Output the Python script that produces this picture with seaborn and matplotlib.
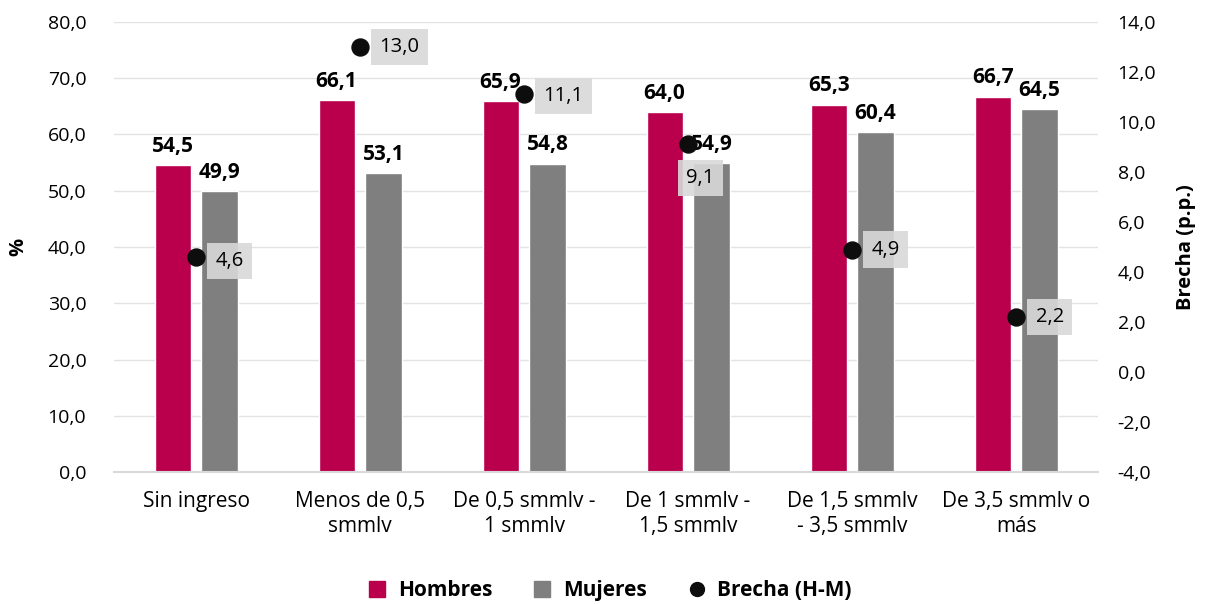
import pandas as pd
import seaborn as sns
import matplotlib.pyplot as plt
from matplotlib.ticker import FuncFormatter, MultipleLocator
from matplotlib.lines import Line2D

# -------------------------------------------------
# Data
# -------------------------------------------------
categorias = [
    "Sin ingreso",
    "Menos de 0,5\nsmmlv",
    "De 0,5 smmlv -\n1 smmlv",
    "De 1 smmlv -\n1,5 smmlv",
    "De 1,5 smmlv\n- 3,5 smmlv",
    "De 3,5 smmlv o\nmás",
]
hombres = [54.5, 66.1, 65.9, 64.0, 65.3, 66.7]
mujeres = [49.9, 53.1, 54.8, 54.9, 60.4, 64.5]
brecha = [4.6, 13.0, 11.1, 9.1, 4.9, 2.2]

# label nudges (points) for the gap labels, as placed in the original
brecha_offsets = [(14, -3), (14, 0), (14, -1), (9, -24), (14, 0), (14, 0)]

COL_H = "#BA004C"
COL_M = "#7F7F7F"
FONT = ["Open Sans", "DejaVu Sans"]
FS = 14.5


def fmt(v):
    return f"{v:.1f}".replace(".", ",")


df = pd.DataFrame({
    "categoria": categorias * 2,
    "valor": hombres + mujeres,
    "sexo": ["Hombres"] * len(categorias) + ["Mujeres"] * len(categorias),
})

# -------------------------------------------------
# Plot
# -------------------------------------------------
sns.set_theme(style="white")
plt.rcParams["font.family"] = FONT
plt.rcParams["text.color"] = "black"

fig = plt.figure(figsize=(12.08, 6.04), dpi=100)
ax = fig.add_axes([0.0944, 0.2185, 0.8146, 0.7451])

sns.barplot(
    data=df, x="categoria", y="valor", hue="sexo",
    palette={"Hombres": COL_H, "Mujeres": COL_M},
    width=0.572, gap=0.23, ax=ax, legend=False, saturation=1,
)

ax.set_ylim(0, 80)
ax.yaxis.set_major_locator(MultipleLocator(10))
ax.yaxis.set_major_formatter(FuncFormatter(lambda v, p: fmt(v)))
ax.set_xlim(-0.5, len(categorias) - 0.5)
ax.grid(axis="y", color="#E3E3E3", linewidth=1.0)
ax.set_axisbelow(True)
for s in ["top", "left", "right"]:
    ax.spines[s].set_visible(False)
ax.spines["bottom"].set_color("#D9D9D9")
ax.spines["bottom"].set_linewidth(1.5)
ax.tick_params(axis="x", length=0, labelsize=FS + 0.5, colors="black", pad=14)
ax.tick_params(axis="y", length=0, labelsize=FS - 0.5, colors="black", pad=20)
ax.set_xlabel("")
ax.set_ylabel("%", fontsize=FS, fontweight="bold", labelpad=14, color="black")

# bar labels
for cont in ax.containers:
    for rect in cont:
        h = rect.get_height()
        ax.annotate(fmt(h), (rect.get_x() + rect.get_width() / 2, h),
                    xytext=(0, 6), textcoords="offset points",
                    ha="center", va="bottom", fontsize=FS + 0.5, fontweight="bold")

# gap on secondary axis
ax2 = ax.twinx()
xs = list(range(len(categorias)))
sns.scatterplot(x=xs, y=brecha, ax=ax2, color="#0D0D0D", s=150,
                edgecolor="#0D0D0D", zorder=5, legend=False)
ax2.set_ylim(-4, 14)
ax2.yaxis.set_major_locator(MultipleLocator(2))
ax2.yaxis.set_major_formatter(FuncFormatter(lambda v, p: fmt(v)))
for s in ["top", "left", "right", "bottom"]:
    ax2.spines[s].set_visible(False)
ax2.tick_params(axis="y", length=0, labelsize=FS - 0.5, pad=14, colors="black")
ax2.set_ylabel("Brecha (p.p.)", fontsize=FS, fontweight="bold", labelpad=14, color="black")
ax2.set_xlim(-0.5, len(categorias) - 0.5)

for x, b, off in zip(xs, brecha, brecha_offsets):
    ax2.annotate(fmt(b), (x, b), xytext=off, textcoords="offset points",
                 ha="left" if off[0] > 12 else "center", va="center",
                 fontsize=FS,
                 bbox=dict(boxstyle="square,pad=0.4", fc="#D9D9D9", ec="none", alpha=0.9))

# legend
handles = [
    Line2D([], [], marker="s", linestyle="", color=COL_H, markersize=11),
    Line2D([], [], marker="s", linestyle="", color=COL_M, markersize=11),
    Line2D([], [], marker="o", linestyle="", color="#0D0D0D", markersize=10),
]
fig.legend(handles, ["Hombres", "Mujeres", "Brecha (H-M)"],
           loc="center", bbox_to_anchor=(0.5, 0.022), ncol=3, frameon=False,
           prop={"weight": "bold", "size": FS + 0.5, "family": FONT},
           handletextpad=0.0, columnspacing=1.4)

fig.savefig("out.png", dpi=100)
